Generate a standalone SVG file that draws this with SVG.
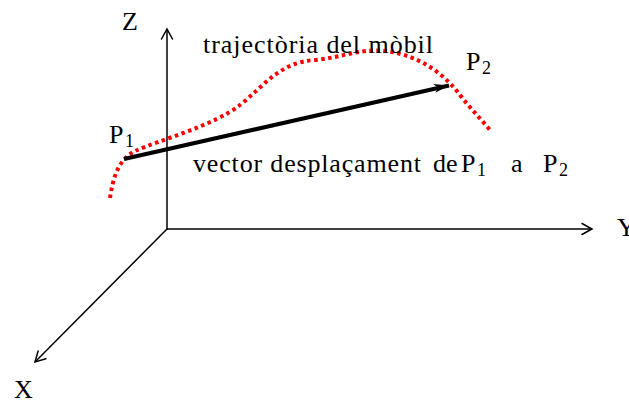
<svg xmlns="http://www.w3.org/2000/svg" width="629" height="403" viewBox="0 0 629 403">
<defs>
<marker id="vee" markerUnits="userSpaceOnUse" markerWidth="24" markerHeight="24" viewBox="-12 -12 24 24" refX="0" refY="0" orient="auto">
<path d="M-10,-5.5 L0,0 L-10,5.5" fill="none" stroke="#000" stroke-width="1.5" stroke-linecap="round" stroke-linejoin="miter"/>
</marker>
<marker id="barb" markerUnits="userSpaceOnUse" markerWidth="30" markerHeight="30" viewBox="-15 -15 30 30" refX="0" refY="0" orient="auto">
<path d="M0,0 L-15,-5 L-11,0 L-15,4 Z" fill="#000"/>
</marker>
</defs>
<style>
text{font-family:"Liberation Serif","Times New Roman",serif;fill:#000;font-size:26px}
.sub{font-size:18px}
.axis{fill:none;stroke:#000;stroke-width:1.5}
.traj{fill:none;stroke:#ff0000;stroke-width:4;stroke-dasharray:3.5 3.5}
.vec{fill:none;stroke:#000;stroke-width:4}
</style>
<g id="connectors">
<line id="axis-z" class="axis" x1="167" y1="230" x2="167" y2="29" marker-end="url(#vee)"/>
<line id="axis-y" class="axis" x1="167" y1="229" x2="592" y2="229" marker-end="url(#vee)"/>
<line id="axis-x" class="axis" x1="167" y1="229" x2="35" y2="362" marker-end="url(#vee)"/>
<path id="trajectory" class="traj" d="M110,198 C113,178 118,160 135,151 C160,140 215,125 240,105 C265,85 280,62 315,60 C340,58 360,48 385,51 C420,55 445,75 460,95 C470,108 480,118 490,130"/>
<line id="displacement" class="vec" x1="124" y1="159" x2="449" y2="85.5" marker-end="url(#barb)"/>
</g>
<g id="label-z"><text x="122" y="30">Z</text></g>
<g id="label-y"><text x="617" y="236">Y</text></g>
<g id="label-x"><text x="14" y="398">X</text></g>
<g id="label-trajectoria"><text x="203" y="53" textLength="230" lengthAdjust="spacing">trajectòria del mòbil</text></g>
<g id="label-p1"><text x="109" y="143">P</text><text class="sub" x="125" y="147">1</text></g>
<g id="label-p2"><text x="466" y="70">P</text><text class="sub" x="482" y="74">2</text></g>
<g id="label-vector"><text x="193" y="172" textLength="228" lengthAdjust="spacing">vector desplaçament</text><text x="433" y="172">de</text><text x="461" y="172">P</text><text class="sub" x="477" y="176">1</text><text x="511" y="172">a</text><text x="543" y="172">P</text><text class="sub" x="559" y="176">2</text></g>
</svg>
